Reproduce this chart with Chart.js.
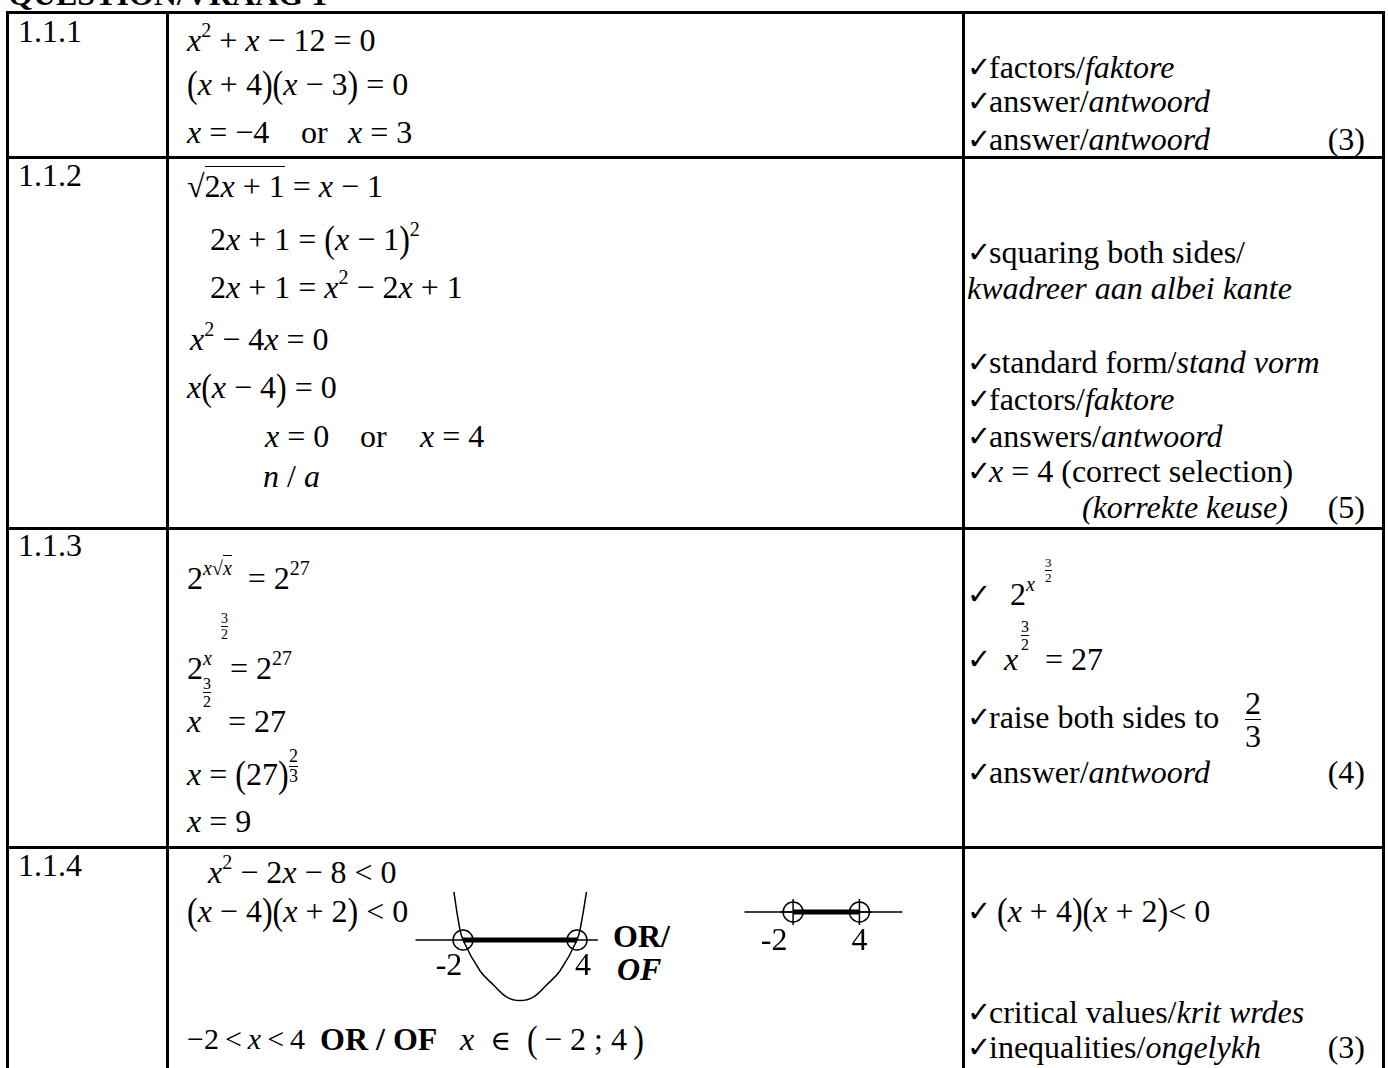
<!DOCTYPE html>
<html>
<head>
<meta charset="utf-8">
<script src="https://cdn.jsdelivr.net/npm/chart.js@4.4.1/dist/chart.umd.min.js"></script>
<style>
    body { margin: 0; background: #fff; }
    #page {
        position: relative; width: 1388px; height: 1068px; overflow: hidden;
        font-family: 'Liberation Serif', 'Times New Roman', serif; font-size: 32px; color: #000;
    }
    .t { position: absolute; white-space: nowrap; line-height: 1; }
    .h { position: absolute; height: 3px; background: #000; }
    .v { position: absolute; width: 3px; background: #000; }
    .sup { font-size: 20px; position: relative; top: -14px; }
    .ck { display: inline-block; width: 22px; font-family: 'DejaVu Sans', sans-serif; font-size: 29px; position: relative; top: -1px; }
    .p { display: inline-block; transform: scale(1, 1.2); }
    .fr { position: absolute; display: flex; flex-direction: column; align-items: center; line-height: 0.95; }
    .fr .bar { width: 100%; border-top: 1.5px solid #000; margin: 1px 0; }
    .ov { border-top: 1.5px solid #000; padding-top: 1px; }
    .el { font-family: 'DejaVu Serif', serif; font-size: 28px; }
    b i, i b { font-weight: bold; }
    canvas { position: absolute; }
</style>
</head>
<body>
<div id="page">

    <!-- ======== LÍNEAS DE LA TABLA ======== -->
    <div class="t" style="left:8px;top:-22px;font-weight:bold;">QUESTION/VRAAG 1</div>
    <div class="h" style="left:6px;top:11px;width:1379px;"></div>
    <div class="h" style="left:6px;top:156px;width:1379px;"></div>
    <div class="h" style="left:6px;top:527px;width:1379px;"></div>
    <div class="h" style="left:6px;top:846px;width:1379px;"></div>
    <div class="v" style="left:6px;top:11px;height:1060px;"></div>
    <div class="v" style="left:166px;top:11px;height:1060px;"></div>
    <div class="v" style="left:962px;top:11px;height:1060px;"></div>
    <div class="v" style="left:1382px;top:11px;height:1060px;"></div>

    <!-- ======== 1.1.1 ======== -->
    <div class="t" style="left:18px;top:15px;">1.1.1</div>
    <div class="t" style="left:187px;top:24px;"><i>x</i><span class="sup">2</span> + <i>x</i> − 12 = 0</div>
    <div class="t" style="left:187px;top:68px;"><span class="p">(</span><i>x</i> + 4<span class="p">)</span><span class="p">(</span><i>x</i> − 3<span class="p">)</span> = 0</div>
    <div class="t" style="left:187px;top:116px;"><i>x</i> = −4</div>
    <div class="t" style="left:301px;top:116px;">or</div>
    <div class="t" style="left:348px;top:116px;"><i>x</i> = 3</div>

    <div class="t" style="left:967px;top:51px;"><span class="ck">✓</span>factors/<i>faktore</i></div>
    <div class="t" style="left:967px;top:85px;"><span class="ck">✓</span>answer/<i>antwoord</i></div>
    <div class="t" style="left:967px;top:123px;"><span class="ck">✓</span>answer/<i>antwoord</i></div>
    <div class="t" style="right:23px;top:123px;">(3)</div>

    <!-- ======== 1.1.2 ======== -->
    <div class="t" style="left:18px;top:159px;">1.1.2</div>
    <div class="t" style="left:187px;top:170px;">√<span class="ov">2<i>x</i> + 1</span> = <i>x</i> − 1</div>
    <div class="t" style="left:210px;top:223px;">2<i>x</i> + 1 = <span class="p">(</span><i>x</i> − 1<span class="p">)</span><span class="sup">2</span></div>
    <div class="t" style="left:210px;top:271px;">2<i>x</i> + 1 = <i>x</i><span class="sup">2</span> − 2<i>x</i> + 1</div>
    <div class="t" style="left:190px;top:323px;"><i>x</i><span class="sup">2</span> − 4<i>x</i> = 0</div>
    <div class="t" style="left:187px;top:371px;"><i>x</i><span class="p">(</span><i>x</i> − 4<span class="p">)</span> = 0</div>
    <div class="t" style="left:265px;top:420px;"><i>x</i> = 0</div>
    <div class="t" style="left:360px;top:420px;">or</div>
    <div class="t" style="left:420px;top:420px;"><i>x</i> = 4</div>
    <div class="t" style="left:263px;top:460px;"><i>n</i> / <i>a</i></div>

    <div class="t" style="left:967px;top:236px;"><span class="ck">✓</span>squaring both sides/</div>
    <div class="t" style="left:967px;top:272px;"><i>kwadreer aan albei kante</i></div>
    <div class="t" style="left:967px;top:346px;"><span class="ck">✓</span>standard form/<i>stand vorm</i></div>
    <div class="t" style="left:967px;top:383px;"><span class="ck">✓</span>factors/<i>faktore</i></div>
    <div class="t" style="left:967px;top:420px;"><span class="ck">✓</span>answers/<i>antwoord</i></div>
    <div class="t" style="left:967px;top:455px;"><span class="ck">✓</span><i>x</i> = 4 (correct selection)</div>
    <div class="t" style="left:1082px;top:491px;"><i>(korrekte keuse)</i></div>
    <div class="t" style="right:23px;top:491px;">(5)</div>

    <!-- ======== 1.1.3 ======== -->
    <div class="t" style="left:18px;top:529px;">1.1.3</div>
    <div class="t" style="left:187px;top:562px;">2<span class="sup"><i>x</i>√<span class="ov"><i>x</i></span></span> &nbsp;= 2<span class="sup">27</span></div>
    <div class="t" style="left:187px;top:652px;">2<span class="sup"><i>x</i>&nbsp;&nbsp;</span> = 2<span class="sup">27</span></div>
    <div class="fr" style="left:221px;top:612px;font-size:14px;"><span>3</span><span class="bar"></span><span>2</span></div>
    <div class="t" style="left:187px;top:705px;"><i>x</i></div>
    <div class="t" style="left:228px;top:705px;">= 27</div>
    <div class="fr" style="left:203px;top:676px;font-size:16px;"><span>3</span><span class="bar"></span><span>2</span></div>
    <div class="t" style="left:187px;top:758px;"><i>x</i> = <span class="p">(</span>27<span class="p">)</span></div>
    <div class="fr" style="left:289px;top:748px;font-size:18px;"><span>2</span><span class="bar"></span><span>3</span></div>
    <div class="t" style="left:187px;top:805px;"><i>x</i> = 9</div>

    <div class="t" style="left:967px;top:578px;"><span class="ck">✓</span></div>
    <div class="t" style="left:1010px;top:578px;">2<span class="sup"><i>x</i></span></div>
    <div class="fr" style="left:1045px;top:557px;font-size:13px;"><span>3</span><span class="bar"></span><span>2</span></div>
    <div class="t" style="left:967px;top:643px;"><span class="ck">✓</span></div>
    <div class="t" style="left:1004px;top:643px;"><i>x</i></div>
    <div class="t" style="left:1045px;top:643px;">= 27</div>
    <div class="fr" style="left:1021px;top:619px;font-size:16px;"><span>3</span><span class="bar"></span><span>2</span></div>
    <div class="t" style="left:967px;top:701px;"><span class="ck">✓</span>raise both sides to</div>
    <div class="fr" style="left:1245px;top:688px;font-size:32px;"><span>2</span><span class="bar"></span><span>3</span></div>
    <div class="t" style="left:967px;top:756px;"><span class="ck">✓</span>answer/<i>antwoord</i></div>
    <div class="t" style="right:23px;top:756px;">(4)</div>

    <!-- ======== 1.1.4 ======== -->
    <div class="t" style="left:18px;top:849px;">1.1.4</div>
    <div class="t" style="left:208px;top:856px;"><i>x</i><span class="sup">2</span> − 2<i>x</i> − 8 &lt; 0</div>
    <div class="t" style="left:187px;top:895px;"><span class="p">(</span><i>x</i> − 4<span class="p">)</span><span class="p">(</span><i>x</i> + 2<span class="p">)</span> &lt; 0</div>
    <div class="t" style="left:613px;top:920px;font-weight:bold;">OR/</div>
    <div class="t" style="left:617px;top:953px;"><b><i>OF</i></b></div>
    <div class="t" style="left:187px;top:1024px;font-size:30px;">−2&#8201;&lt;&#8201;<i>x</i>&#8201;&lt;&#8201;4</div>
    <div class="t" style="left:320px;top:1023px;font-weight:bold;">OR / OF</div>
    <div class="t" style="left:460px;top:1023px;"><i>x</i>&nbsp; <span class="el">∈</span> &nbsp;<span class="p">(</span>&#8201;− 2 ; 4&#8201;<span class="p">)</span></div>

    <div class="t" style="left:967px;top:895px;"><span class="ck">✓</span> <span class="p">(</span><i>x</i> + 4<span class="p">)</span><span class="p">(</span><i>x</i> + 2<span class="p">)</span>&lt; 0</div>
    <div class="t" style="left:967px;top:996px;"><span class="ck">✓</span>critical values/<i>krit wrdes</i></div>
    <div class="t" style="left:967px;top:1031px;"><span class="ck">✓</span>inequalities/<i>ongelykh</i></div>
    <div class="t" style="right:23px;top:1031px;">(3)</div>

    <canvas id="graficoParabola" width="260" height="165" style="left:395px;top:870px;"></canvas>
    <canvas id="graficoRecta" width="210" height="80" style="left:720px;top:872px;"></canvas>
</div>

<script>
// =========================
// DATOS
// =========================
const parabolaX = [-2.48, -2.24, -2, -1.1, -0.37, 0.3, 1, 1.7, 2.37, 3.1, 4, 4.24, 4.5];
const parabolaY = [7.0, 2.7, 0, -4.5, -6.6, -8.3, -8.8, -8.3, -6.6, -4.5, 0, 2.7, 7.0];
const criticalValues = [-2, 4];
const criticalLabels = ['-2', '4'];
const axisParabola = [-4.5, 5.1];
const axisRecta = [-6.4, 7.9];


// =========================
// ETIQUETAS -2 / 4 (plugin)
// =========================
const etiquetasPlugin = {
    id: 'etiquetas',
    afterDatasetsDraw(chart, args, opts) {
        const ctx = chart.ctx;
        const xs = chart.scales.x;
        const ys = chart.scales.y;
        ctx.save();
        ctx.font = '32px "Liberation Serif"';
        ctx.fillStyle = '#000';
        ctx.textAlign = 'center';
        ctx.textBaseline = 'middle';
        criticalLabels.forEach((txt, i) => {
            const px = xs.getPixelForValue(criticalValues[i]) + opts.dx[i];
            const py = ys.getPixelForValue(0) + opts.dy;
            ctx.fillText(txt, px, py);
        });
        ctx.restore();
    }
};

function linea(xs, ys) {
    return xs.map((x, i) => ({ x: x, y: ys[i] }));
}

function baseOptions(xMin, xMax, yMin, yMax, dx, dy) {
    return {
        responsive: false,
        animation: false,
        events: [],
        layout: { padding: 0 },
        plugins: {
            legend: { display: false },
            tooltip: { enabled: false },
            etiquetas: { dx: dx, dy: dy }
        },
        scales: {
            x: { type: 'linear', min: xMin, max: xMax, display: false },
            y: { type: 'linear', min: yMin, max: yMax, display: false }
        }
    };
}


// ============ GRÁFICO PARÁBOLA ============
new Chart(document.getElementById('graficoParabola'), {
    type: 'scatter',
    data: {
        datasets: [
            {
                data: linea(parabolaX, parabolaY),
                showLine: true,
                borderColor: '#000',
                borderWidth: 1.5,
                pointRadius: 0,
                tension: 0.4,
                clip: false
            },
            {
                data: linea(axisParabola, [0, 0]),
                showLine: true,
                borderColor: '#000',
                borderWidth: 1.5,
                pointRadius: 0
            },
            {
                data: linea(criticalValues, [0, 0]),
                showLine: true,
                borderColor: '#000',
                borderWidth: 5,
                pointRadius: 10,
                pointStyle: 'circle',
                pointBorderWidth: 1.5,
                pointBorderColor: '#000',
                pointBackgroundColor: 'rgba(0,0,0,0)'
            }
        ]
    },
    options: baseOptions(-4.976, 7.5, -12.125, 8.5, [-14, 6], 27),
    plugins: [etiquetasPlugin]
});

// ============ RECTA NUMÉRICA ============
new Chart(document.getElementById('graficoRecta'), {
    type: 'scatter',
    data: {
        datasets: [
            {
                data: linea(axisRecta, [0, 0]),
                showLine: true,
                borderColor: '#000',
                borderWidth: 1.5,
                pointRadius: 0
            },
            {
                data: linea(criticalValues, [0, 0]),
                showLine: true,
                borderColor: '#000',
                borderWidth: 5,
                pointRadius: 10,
                pointStyle: 'circle',
                pointBorderWidth: 1.5,
                pointBorderColor: '#000',
                pointBackgroundColor: 'rgba(0,0,0,0)'
            },
            {
                data: linea(criticalValues, [0, 0]),
                showLine: false,
                pointRadius: 13,
                pointStyle: 'cross',
                pointBorderWidth: 1.5,
                pointBorderColor: '#000'
            }
        ]
    },
    options: baseOptions(-7.3, 9.07, -1, 1, [-19, 0], 30),
    plugins: [etiquetasPlugin]
});
</script>
</body>
</html>
